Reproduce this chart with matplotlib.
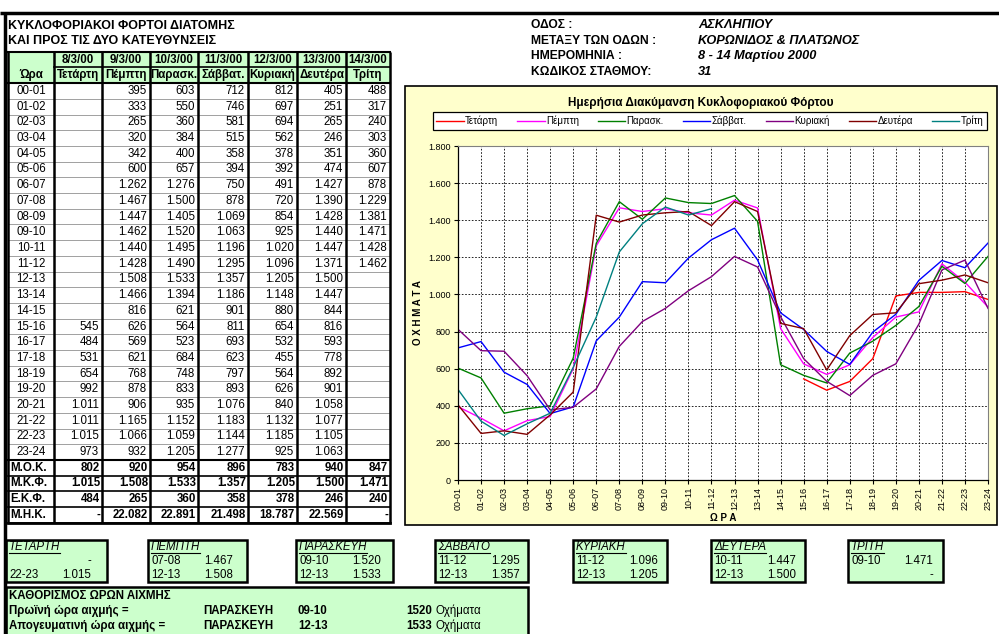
import numpy as np
import matplotlib
matplotlib.use('Agg')
import matplotlib.pyplot as plt
from matplotlib.patches import Rectangle
from matplotlib.ticker import FuncFormatter

plt.rcParams['font.family'] = ['Liberation Sans', 'DejaVu Sans']

W, H = 999, 634
nan = np.nan

hours = ['00-01', '01-02', '02-03', '03-04', '04-05', '05-06', '06-07', '07-08',
         '08-09', '09-10', '10-11', '11-12', '12-13', '13-14', '14-15', '15-16',
         '16-17', '17-18', '18-19', '19-20', '20-21', '21-22', '22-23', '23-24']
dates = ['8/3/00', '9/3/00', '10/3/00', '11/3/00', '12/3/00', '13/3/00', '14/3/00']
days = ['Τετάρτη', 'Πέμπτη', 'Παρασκ.', 'Σάββατ.', 'Κυριακή', 'Δευτέρα', 'Τρίτη']
colors = ['#ff0000', '#ff00ff', '#008000', '#0000ff', '#800080', '#800000', '#008080']

wed = [nan] * 15 + [545, 484, 531, 654, 992, 1011, 1011, 1015, 973]
thu = [395, 333, 265, 320, 342, 600, 1262, 1467, 1447, 1462, 1440, 1428,
       1508, 1466, 816, 626, 569, 621, 768, 878, 906, 1165, 1066, 932]
fri = [603, 550, 360, 384, 400, 657, 1276, 1500, 1405, 1520, 1495, 1490,
       1533, 1394, 621, 564, 523, 684, 748, 833, 935, 1152, 1059, 1205]
sat = [712, 746, 581, 515, 358, 394, 750, 878, 1069, 1063, 1196, 1295,
       1357, 1186, 901, 811, 693, 623, 797, 893, 1076, 1183, 1144, 1277]
sun = [812, 697, 694, 562, 378, 392, 491, 720, 854, 925, 1020, 1096,
       1205, 1148, 880, 654, 532, 455, 564, 626, 840, 1132, 1185, 925]
mon = [405, 251, 265, 246, 351, 474, 1427, 1390, 1428, 1440, 1447, 1371,
       1500, 1447, 844, 816, 593, 778, 892, 901, 1058, 1077, 1105, 1063]
tue = [488, 317, 240, 303, 360, 607, 878, 1229, 1381, 1471, 1428, 1462] + [nan] * 12
series = [wed, thu, fri, sat, sun, mon, tue]

sum_labels = ['Μ.Ο.Κ.', 'Μ.Κ.Φ.', 'Ε.Κ.Φ.', 'Μ.Η.Κ.']
mok = [802, 920, 954, 896, 783, 940, 847]
mkf = [1015, 1508, 1533, 1357, 1205, 1500, 1471]
ekf = [484, 265, 360, 358, 378, 246, 240]
mhk = [None, 22082, 22891, 21498, 18787, 22569, None]

info_keys = ['ΟΔΟΣ :', 'ΜΕΤΑΞΥ ΤΩΝ ΟΔΩΝ :', 'ΗΜΕΡΟΜΗΝΙΑ :', 'ΚΩΔΙΚΟΣ ΣΤΑΘΜΟΥ:']
info_vals = ['ΑΣΚΛΗΠΙΟΥ', 'ΚΟΡΩΝΙΔΟΣ & ΠΛΑΤΩΝΟΣ', '8 - 14 Μαρτίου 2000', '31']

peak_days = ['ΤΕΤΑΡΤΗ', 'ΠΕΜΠΤΗ', 'ΠΑΡΑΣΚΕΥΗ', 'ΣΑΒΒΑΤΟ', 'ΚΥΡΙΑΚΗ', 'ΔΕΥΤΕΡΑ', 'ΤΡΙΤΗ']
am_hour = ['', '07-08', '09-10', '11-12', '11-12', '10-11', '09-10']
am_val = [None, 1467, 1520, 1295, 1096, 1447, 1471]
pm_hour = ['22-23', '12-13', '12-13', '12-13', '12-13', '12-13', '']
pm_val = [1015, 1508, 1533, 1357, 1205, 1500, None]

peak_labels = ['Πρωϊνή ώρα αιχμής =', 'Απογευματινή ώρα αιχμής =']
peak_day = ['ΠΑΡΑΣΚΕΥΗ', 'ΠΑΡΑΣΚΕΥΗ']
peak_hour = ['09-10', '12-13']
peak_val = [1520, 1533]

GREEN = '#ccffcc'
YELLOW = '#ffffcc'
FS = 8.3


def fmt(v, empty=''):
    if v is None or (isinstance(v, float) and np.isnan(v)):
        return empty
    return f'{int(v):,}'.replace(',', '.')


fig = plt.figure(figsize=(W / 100, H / 100), dpi=100)
bg = fig.add_axes([0, 0, 1, 1])
bg.set_xlim(0, W)
bg.set_ylim(H, 0)
bg.axis('off')

# page rules
bg.plot([0, W], [13, 13], color='black', lw=2.5, solid_capstyle='butt')
bg.plot([5, 5], [13, H], color='black', lw=2.5, solid_capstyle='butt')

bg.text(8, 26, 'ΚΥΚΛΟΦΟΡΙΑΚΟΙ ΦΟΡΤΟΙ ΔΙΑΤΟΜΗΣ', fontsize=9, fontweight='bold', va='center')
bg.text(8, 41, 'ΚΑΙ ΠΡΟΣ ΤΙΣ ΔΥΟ ΚΑΤΕΥΘΥΝΣΕΙΣ', fontsize=9, fontweight='bold', va='center')

for k, (key, val) in enumerate(zip(info_keys, info_vals)):
    y = 25 + 15.7 * k
    bg.text(531, y, key, fontsize=8.7, fontweight='bold', va='center')
    bg.text(698, y, val, fontsize=9.2, fontweight='bold', fontstyle='italic', va='center')

# ---- table ----
edges = [8, 54, 102, 150, 198, 248, 297, 346, 390]
pitch = 15.7


def ry(i):
    return 91 + pitch * i


top = ry(-2) - pitch / 2
mid = ry(-1) - pitch / 2
hbot = ry(0) - pitch / 2
dbot = ry(24) - pitch / 2
tbot = ry(28) - pitch / 2

bg.add_patch(Rectangle((edges[0], top), edges[-1] - edges[0], hbot - top, fc=GREEN, ec='none'))
for j in range(7):
    cx = (edges[j + 1] + edges[j + 2]) / 2
    bg.text(cx, ry(-2), dates[j], fontsize=FS, fontweight='bold', ha='center', va='center')
    bg.text(cx, ry(-1), days[j], fontsize=FS, fontweight='bold', ha='center', va='center')
bg.text((edges[0] + edges[1]) / 2, ry(-1), 'Ώρα', fontsize=FS, fontweight='bold', ha='center', va='center')

for i in range(24):
    y = ry(i)
    bg.text((edges[0] + edges[1]) / 2, y, hours[i], fontsize=FS, ha='center', va='center')
    for j in range(7):
        bg.text(edges[j + 2] - 3, y, fmt(series[j][i]), fontsize=FS, ha='right', va='center')
    bg.plot([edges[0], edges[-1]], [y + pitch / 2] * 2, color='#a0a0a0', lw=0.7)

sums = [mok, mkf, ekf, mhk]
for s in range(4):
    y = ry(24 + s)
    bg.text(edges[0] + 2, y, sum_labels[s], fontsize=FS, fontweight='bold', ha='left', va='center')
    for j in range(7):
        bg.text(edges[j + 2] - 2, y, fmt(sums[s][j], '-'), fontsize=FS, fontweight='bold',
                ha='right', va='center')
    bg.plot([edges[0], edges[-1]], [y + pitch / 2] * 2, color='black', lw=1.2)

bg.plot([edges[0], edges[-1]], [top, top], color='black', lw=1.5)
bg.plot([edges[1], edges[-1]], [mid, mid], color='black', lw=1.2)
bg.plot([edges[0], edges[-1]], [hbot, hbot], color='black', lw=1.5)
bg.plot([edges[0], edges[-1]], [dbot, dbot], color='black', lw=1.5)
bg.plot([edges[0], edges[-1]], [tbot, tbot], color='black', lw=2)
for e in edges:
    bg.plot([e, e], [top, tbot], color='black', lw=1.8, solid_capstyle='butt')

# ---- chart ----
bg.add_patch(Rectangle((405, 86), 592, 439, fc=YELLOW, ec='black', lw=1.2))
bg.text(701, 102, 'Ημερήσια Διακύμανση Κυκλοφοριακού Φόρτου', fontsize=8.5,
        fontweight='bold', ha='center', va='center')
bg.text(418, 313, 'Ο Χ Η Μ Α Τ Α', fontsize=7, fontweight='bold', rotation=90,
        ha='center', va='center')
bg.text(723, 518, 'Ω Ρ Α', fontsize=7, fontweight='bold', ha='center', va='center')

ax = fig.add_axes([458 / W, 1 - 480 / H, 530 / W, 334 / H])
ax.set_facecolor('white')
x = np.arange(24)
for s, name, c in zip(series, days, colors):
    ax.plot(x, s, color=c, lw=1.0, label=name)
ax.set_xlim(0, 23)
ax.set_ylim(0, 1800)
ax.set_yticks(range(0, 1801, 200))
ax.yaxis.set_major_formatter(FuncFormatter(lambda v, p: fmt(v)))
ax.set_xticks(x)
ax.set_xticklabels(hours, rotation=90)
ax.grid(True, color='black', linestyle=(0, (2, 2)), lw=0.6)
ax.tick_params(length=3, width=0.8, labelsize=6.5, pad=2)
for side in ['left', 'bottom']:
    ax.spines[side].set_color('black')
    ax.spines[side].set_linewidth(0.9)
for side in ['top', 'right']:
    ax.spines[side].set_color('#808080')
    ax.spines[side].set_linewidth(0.8)

handles, labels = ax.get_legend_handles_labels()
leg = fig.legend(handles, labels, loc='center', ncol=7, mode='expand',
                 bbox_to_anchor=(433 / W, 1 - 131 / H, 554 / W, 20 / H),
                 fontsize=7, handlelength=2.8, frameon=True, fancybox=False,
                 edgecolor='black', facecolor='white', framealpha=1, borderaxespad=0,
                 borderpad=0.35, columnspacing=1.0, handletextpad=0.15)
leg.get_frame().set_linewidth(0.9)

# ---- peak boxes ----
renderer = fig.canvas.get_renderer()
box_x = [6, 148, 296, 435, 573, 711, 848]
box_w = [101, 99, 97, 93, 94, 94, 95]
for k in range(7):
    x0 = box_x[k]
    bg.add_patch(Rectangle((x0, 540), box_w[k], 42, fc=GREEN, ec='black', lw=1.8))
    t = bg.text(x0 + 3, 547, peak_days[k], fontsize=FS, fontstyle='italic', va='center')
    bb = t.get_window_extent(renderer)
    bg.plot([bb.x0, bb.x1], [552.5, 552.5], color='black', lw=0.8)
    bg.text(x0 + 3, 561, am_hour[k], fontsize=FS, va='center')
    bg.text(x0 + 85, 561, fmt(am_val[k], '-'), fontsize=FS, ha='right', va='center')
    bg.text(x0 + 3, 575, pm_hour[k], fontsize=FS, va='center')
    bg.text(x0 + 85, 575, fmt(pm_val[k], '-'), fontsize=FS, ha='right', va='center')

bg.add_patch(Rectangle((6, 587), 522, 60, fc=GREEN, ec='black', lw=1.8))
bg.text(9, 596, 'ΚΑΘΟΡΙΣΜΟΣ ΩΡΩΝ ΑΙΧΜΗΣ', fontsize=FS, fontweight='bold', va='center')
for k in range(2):
    y = 611 + 15 * k
    bg.text(9, y, peak_labels[k], fontsize=FS, fontweight='bold', va='center')
    bg.text(203, y, peak_day[k], fontsize=FS, fontweight='bold', va='center')
    bg.text(298, y, peak_hour[k], fontsize=FS, fontweight='bold', va='center')
    bg.text(432, y, str(peak_val[k]), fontsize=FS, fontweight='bold', ha='right', va='center')
    bg.text(435, y, 'Οχήματα', fontsize=FS, va='center')

fig.savefig('out.png', dpi=100)
